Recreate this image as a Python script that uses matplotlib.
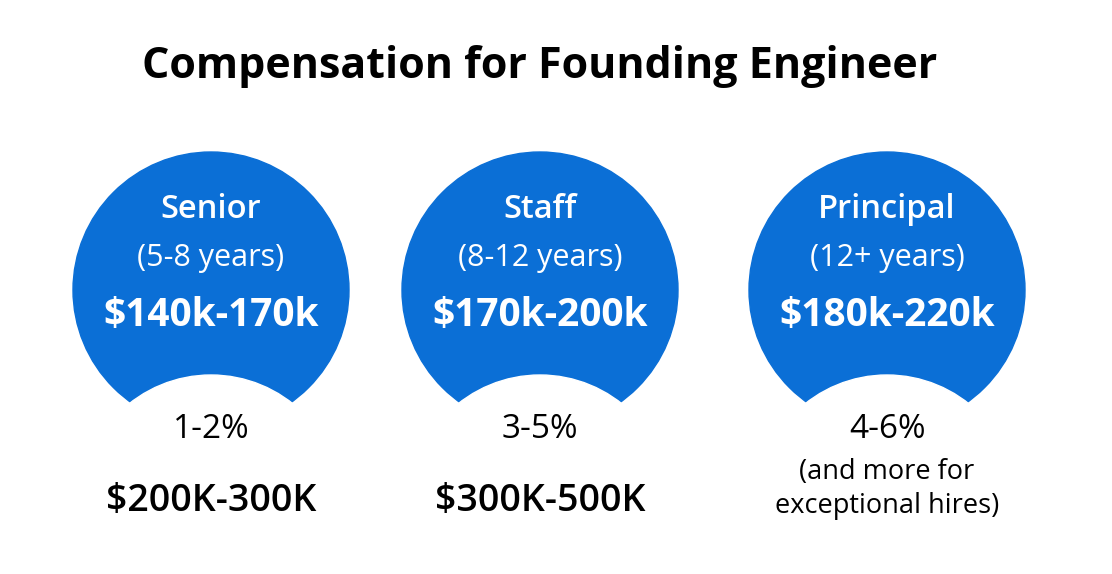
import matplotlib
matplotlib.use("Agg")
import matplotlib.pyplot as plt
from matplotlib.patches import Circle

plt.rcParams['font.family'] = ['Open Sans', 'DejaVu Sans']

TITLE = "Compensation for Founding Engineer"
LEVELS = ["Senior", "Staff", "Principal"]
YEARS = ["(5-8 years)", "(8-12 years)", "(12+ years)"]
SALARY = ["$140k-170k", "$170k-200k", "$180k-220k"]
EQUITY = ["1-2%", "3-5%", "4-6%"]
EQUITY_VALUE = ["$200K-300K", "$300K-500K", "(and more for\nexceptional hires)"]

CENTERS_X = [211, 540, 887]
BLUE = "#0b6fd6"

fig = plt.figure(figsize=(11.12, 5.74), dpi=100)
ax = fig.add_axes([0, 0, 1, 1])
ax.set_xlim(0, 1112)
ax.set_ylim(574, 0)
ax.axis("off")

ax.text(540, 66, TITLE, ha="center", va="center", fontsize=31, fontweight="bold")

for i, cx in enumerate(CENTERS_X):
    ax.add_patch(Circle((cx, 290), 138, color=BLUE, zorder=1))
    # white bite under each circle
    ax.add_patch(Circle((cx, 506), 131, color="white", zorder=2))
    ax.text(cx, 210, LEVELS[i], ha="center", va="center", color="white",
            fontsize=23.5, fontweight="semibold", zorder=3)
    ax.text(cx, 258, YEARS[i], ha="center", va="center", color="white",
            fontsize=22, zorder=3)
    ax.text(cx, 316, SALARY[i], ha="center", va="center", color="white",
            fontsize=28, fontweight="bold", zorder=3)
    ax.text(cx, 430, EQUITY[i], ha="center", va="center", fontsize=24, zorder=3)
    if i < 2:
        ax.text(cx, 501, EQUITY_VALUE[i], ha="center", va="center",
                fontsize=27, fontweight="semibold", zorder=3)
    else:
        ax.text(cx, 489, EQUITY_VALUE[i], ha="center", va="center",
                fontsize=19.5, linespacing=1.25, zorder=3)

fig.savefig("out.png", dpi=100, facecolor="white")
